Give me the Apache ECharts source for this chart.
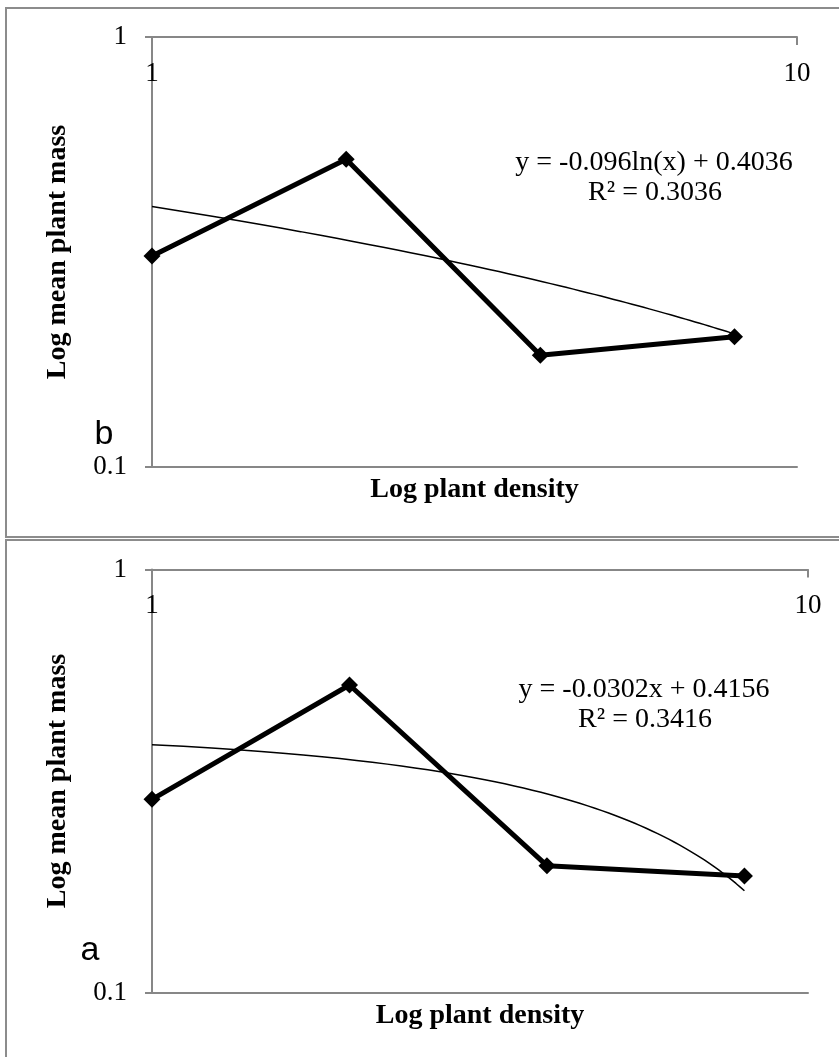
<!DOCTYPE html>
<html>
<head>
<meta charset="utf-8">
<script src="https://cdn.jsdelivr.net/npm/echarts@6/dist/echarts.min.js"></script>
<style>
  html, body { margin: 0; padding: 0; background: #ffffff; }
  #chart { width: 839px; height: 1057px; }
</style>
</head>
<body>
<div id="chart"></div>
<script>
// ---- data ----
const densities = [1, 2, 4, 8];                       // plant density (x)
const massPanelB = [0.3095, 0.5194, 0.1819, 0.2009];  // top panel "b"
const massPanelA = [0.2862, 0.5333, 0.1994, 0.1885];  // bottom panel "a"
const xTickLabels = ['1', '10'];
const yTickLabels = ['0.1', '1'];
const trendCoefB = [-0.096, 0.4036];   // y = a ln(x) + b
const trendCoefA = [-0.0302, 0.4156];  // y = a x + b
const equationB = ['y = -0.096ln(x) + 0.4036', 'R\u00b2 = 0.3036'];
const equationA = ['y = -0.0302x + 0.4156', 'R\u00b2 = 0.3416'];
const panelLetters = ['b', 'a'];
const xTitle = 'Log plant density';
const yTitle = 'Log mean plant mass';

// trendline curves from the equations shown on the chart
function trendPoints(kind, coef) {
  const pts = [];
  const n = 60;
  const x0 = densities[0], x1 = densities[densities.length - 1];
  for (let i = 0; i <= n; i++) {
    const x = x0 + (x1 - x0) * i / n;
    const y = kind === 'log' ? coef[0] * Math.log(x) + coef[1] : coef[0] * x + coef[1];
    pts.push([x, y]);
  }
  return pts;
}

const AXIS_GRAY = '#878787';
const SERIF = '"Liberation Serif", "Times New Roman", serif';

const grids = [
  { left: 152, top: 37, width: 645, height: 430 },
  { left: 152, top: 569.5, width: 656, height: 423 }
];

const xAxes = [], yAxes = [], series = [];
[0, 1].forEach(function (g) {
  xAxes.push({
    type: 'log', logBase: 10, min: 1, max: 10, gridIndex: g, position: 'top',
    axisLine: { show: true, lineStyle: { color: AXIS_GRAY, width: 2 } },
    axisTick: { show: true, inside: true, length: 8, lineStyle: { color: AXIS_GRAY, width: 2 } },
    minorTick: { show: false },
    splitLine: { show: false },
    axisLabel: {
      show: true, inside: true, margin: 23, color: '#000',
      fontFamily: SERIF, fontSize: 27,
      formatter: function (v) { return v >= 10 ? xTickLabels[1] : xTickLabels[0]; }
    }
  });
  xAxes.push({
    type: 'log', logBase: 10, min: 1, max: 10, gridIndex: g, position: 'bottom',
    axisLine: { show: true, onZero: false, lineStyle: { color: AXIS_GRAY, width: 2 } },
    axisTick: { show: false }, axisLabel: { show: false }, splitLine: { show: false },
    name: xTitle, nameLocation: 'middle', nameGap: 9,
    nameTextStyle: { fontFamily: SERIF, fontWeight: 'bold', fontSize: 28, color: '#000' }
  });
  yAxes.push({
    type: 'log', logBase: 10, min: 0.1, max: 1, gridIndex: g, position: 'left',
    axisLine: { show: true, onZero: false, lineStyle: { color: AXIS_GRAY, width: 2 } },
    axisTick: { show: true, inside: false, length: 7, lineStyle: { color: AXIS_GRAY, width: 2 } },
    splitLine: { show: false },
    axisLabel: {
      show: true, margin: 25, color: '#000', fontFamily: SERIF, fontSize: 27,
      formatter: function (v) { return v >= 1 ? yTickLabels[1] : yTickLabels[0]; }
    },
    name: yTitle, nameLocation: 'middle', nameRotate: 90, nameGap: 80,
    nameTextStyle: { fontFamily: SERIF, fontWeight: 'bold', fontSize: 28, color: '#000' }
  });
  const vals = g === 0 ? massPanelB : massPanelA;
  series.push({
    type: 'line', xAxisIndex: g * 2, yAxisIndex: g,
    data: densities.map(function (d, i) { return [d, vals[i]]; }),
    symbol: 'diamond', symbolSize: 17,
    itemStyle: { color: '#000' },
    lineStyle: { color: '#000', width: 5 },
    z: 3
  });
  series.push({
    type: 'line', xAxisIndex: g * 2, yAxisIndex: g,
    data: g === 0 ? trendPoints('log', trendCoefB) : trendPoints('lin', trendCoefA),
    showSymbol: false, symbol: 'none', smooth: false,
    lineStyle: { color: '#000', width: 1.5 },
    z: 2
  });
});

function eqText(x, y, txt) {
  return { type: 'text', x: x, y: y, style: {
    text: txt, font: '28px ' + SERIF, fill: '#000',
    align: 'center', verticalAlign: 'middle', textAlign: 'center', textVerticalAlign: 'middle'
  } };
}
function letter(x, y, txt) {
  return { type: 'text', x: x, y: y, style: {
    text: txt, font: '34px "Liberation Sans", Arial, sans-serif', fill: '#000',
    align: 'center', verticalAlign: 'middle', textAlign: 'center', textVerticalAlign: 'middle'
  } };
}

const chart = echarts.init(document.getElementById('chart'), null, { renderer: 'canvas' });
chart.setOption({
  animation: false,
  backgroundColor: '#ffffff',
  grid: grids,
  xAxis: xAxes,
  yAxis: yAxes,
  series: series,
  graphic: [
    { type: 'rect', shape: { x: 6, y: 8, width: 900, height: 529 },
      style: { fill: 'none', stroke: '#8c8c8c', lineWidth: 2 }, z: -1 },
    { type: 'rect', shape: { x: 6, y: 540, width: 900, height: 600 },
      style: { fill: 'none', stroke: '#8c8c8c', lineWidth: 2 }, z: -1 },
    eqText(654, 163, equationB[0]),
    eqText(655, 193, equationB[1]),
    eqText(644, 690, equationA[0]),
    eqText(645, 720, equationA[1]),
    letter(104, 435, panelLetters[0]),
    letter(90, 951, panelLetters[1])
  ]
});
</script>
</body>
</html>
